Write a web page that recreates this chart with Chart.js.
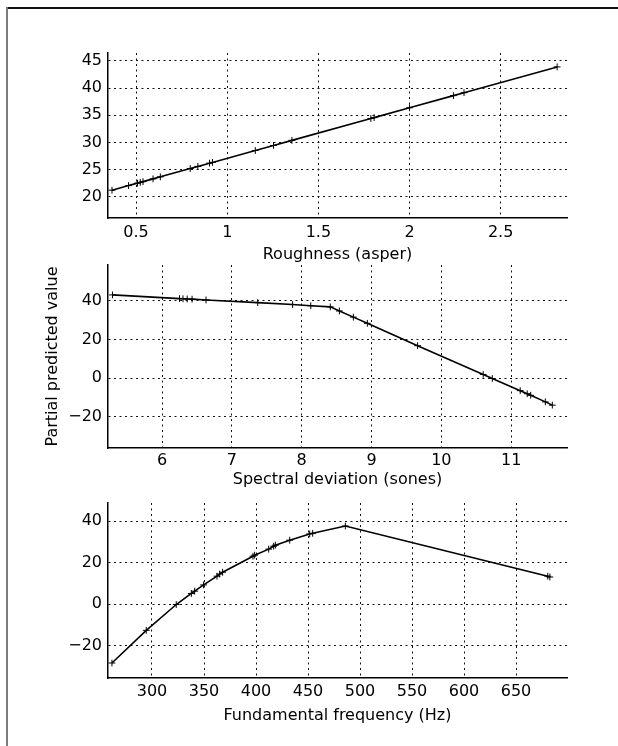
<!DOCTYPE html>
<html><head><meta charset="utf-8">
<script src="https://cdn.jsdelivr.net/npm/chart.js@4.4.0/dist/chart.umd.min.js"></script>
<style>
html,body{margin:0;padding:0;background:#fff;}
body{width:618px;height:746px;position:relative;overflow:hidden;}
canvas{position:absolute;left:0;}
#frameTop{position:absolute;left:6px;top:7px;width:612px;height:1.5px;background:#111;}
#frameLeft{position:absolute;left:6px;top:7px;width:2px;height:739px;background:#7c7c7c;}
</style></head><body>
<div id="frameTop"></div><div id="frameLeft"></div>
<canvas id="c1"></canvas><canvas id="c2"></canvas><canvas id="c3"></canvas>
<script>
// Panel 1: Roughness
const roughness = [0.368,0.459,0.508,0.523,0.538,0.593,0.633,0.797,0.839,0.903,0.919,1.154,1.254,1.355,1.788,1.806,2.000,2.241,2.299,2.810];
const roughnessEffect = [21.2,22.05,22.5,22.64,22.78,23.29,23.66,25.19,25.58,26.18,26.32,28.51,29.44,30.38,34.41,34.57,36.38,38.62,39.16,43.91];
const roughnessTicks = [0.5,1,1.5,2,2.5];
const roughnessTickLabels = ['0.5','1','1.5','2','2.5'];
const roughnessEffectTicks = [20,25,30,35,40,45];
const roughnessEffectTickLabels = ['20','25','30','35','40','45'];

// Panel 2: Spectral deviation
const spectralDev = [5.29,6.25,6.30,6.36,6.43,6.63,7.37,7.87,8.13,8.41,8.54,8.74,8.94,9.66,10.60,10.73,11.13,11.23,11.28,11.49,11.59];
const spectralEffect = [43.1,41.2,41.1,41.0,40.9,40.5,39.1,38.1,37.5,36.9,34.8,31.6,28.4,16.8,1.9,-0.2,-6.5,-8.1,-8.9,-12.3,-14.0];
const spectralTicks = [6,7,8,9,10,11];
const spectralTickLabels = ['6','7','8','9','10','11'];
const spectralEffectTicks = [-20,0,20,40];
const spectralEffectTickLabels = ['\u221220','0','20','40'];

// Panel 3: Fundamental frequency
const f0 = [261.5,294.5,323.3,337.8,341.0,349.6,362.5,365.0,367.9,397.1,398.7,412.2,417.0,418.6,432.4,451.6,454.5,485.9,680.5,682.5];
const f0Effect = [-28.2,-12.5,-0.1,5.2,6.3,9.3,13.5,14.5,15.4,23.1,23.6,26.5,27.9,28.4,30.8,33.8,34.1,37.6,13.5,13.1];
const f0Ticks = [300,350,400,450,500,550,600,650];
const f0TickLabels = ['300','350','400','450','500','550','600','650'];
const f0EffectTicks = [-20,0,20,40];
const f0EffectTickLabels = ['\u221220','0','20','40'];

const xTitles = ['Roughness (asper)','Spectral deviation (sones)','Fundamental frequency (Hz)'];
const yTitle = 'Partial predicted value';

const FONT = {family:'"DejaVu Sans", sans-serif', size:16};
const LH = FONT.size*1.2;

function makePanel(id, c){
  const canvasTop = c.chartTop - 20;
  const H = c.titleCenter - c.chartBottom + LH/2;
  const height = Math.ceil(c.chartBottom - canvasTop + H) + 2;
  const cv = document.getElementById(id);
  cv.style.top = canvasTop + 'px';
  cv.width = 618; cv.height = height;
  cv.style.width = '618px'; cv.style.height = height + 'px';
  new Chart(cv, {
    type:'line',
    data:{datasets:[{
      data:c.x.map((v,i)=>({x:v,y:c.y[i]})),
      borderColor:'#000', borderWidth:1.6, tension:0, fill:false,
      pointStyle:'cross', pointRadius:3.4, pointBorderWidth:1, pointBorderColor:'#000', pointBackgroundColor:'#000'
    }]},
    options:{
      responsive:false, animation:false, devicePixelRatio:1,
      layout:{padding:{left:0,right:618-c.chartRight,top:20,bottom:height-(c.chartBottom-canvasTop)-H}},
      plugins:{legend:{display:false},tooltip:{enabled:false}},
      scales:{
        x:{type:'linear',min:c.xmin,max:c.xmax,
          afterBuildTicks:s=>{s.ticks=c.xt.map(v=>({value:v}));},
          afterFit:s=>{s.height=H;},
          ticks:{padding:c.tickPad,font:FONT,color:'#000',maxRotation:0,autoSkip:false,callback:(v,i)=>c.xl[i]},
          grid:{color:'#111',lineWidth:1,drawTicks:false},
          border:{display:true,color:'#000',width:1.5,dash:[2,3.5]},
          title:{display:true,text:c.xTitle,font:FONT,color:'#000',padding:0}
        },
        y:{type:'linear',min:c.ymin,max:c.ymax,
          afterBuildTicks:s=>{s.ticks=c.yt.map(v=>({value:v}));},
          afterFit:s=>{s.width=c.chartLeft;},
          ticks:{padding:6,font:FONT,color:'#000',autoSkip:false,callback:(v,i)=>c.yl[i]},
          grid:{color:'#111',lineWidth:1,drawTicks:false},
          border:{display:true,color:'#000',width:1.5,dash:[2,3.5]},
          title:{display:!!c.yTitle,text:c.yTitle||'',font:FONT,color:'#000',padding:{top:53-LH/2,bottom:0}}
        }
      }
    }
  });
}

makePanel('c1',{x:roughness,y:roughnessEffect,xt:roughnessTicks,xl:roughnessTickLabels,yt:roughnessEffectTicks,yl:roughnessEffectTickLabels,
  xmin:0.346,xmax:2.864,ymin:16.08,ymax:46.47,chartLeft:108,chartRight:567,chartTop:53,chartBottom:218,tickPad:5,titleCenter:255,xTitle:xTitles[0]});
makePanel('c2',{x:spectralDev,y:spectralEffect,xt:spectralTicks,xl:spectralTickLabels,yt:spectralEffectTicks,yl:spectralEffectTickLabels,
  xmin:5.226,xmax:11.80,ymin:-36.2,ymax:58.6,chartLeft:108,chartRight:567,chartTop:265,chartBottom:448,tickPad:3,titleCenter:480,xTitle:xTitles[1],yTitle:yTitle});
makePanel('c3',{x:f0,y:f0Effect,xt:f0Ticks,xl:f0TickLabels,yt:f0EffectTicks,yl:f0EffectTickLabels,
  xmin:257.7,xmax:699,ymin:-35.4,ymax:48.65,chartLeft:108,chartRight:567,chartTop:503,chartBottom:678,tickPad:4,titleCenter:716,xTitle:xTitles[2]});
</script>
</body></html>
